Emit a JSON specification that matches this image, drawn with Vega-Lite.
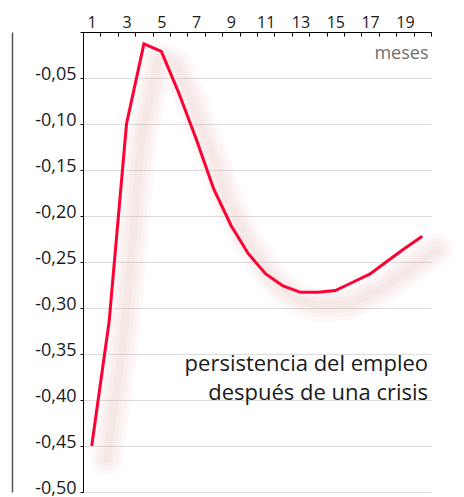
{
  "$schema": "https://vega.github.io/schema/vega-lite/v6.json",
  "width": 348,
  "height": 460,
  "autosize": {"type": "none"},
  "padding": {"left": 83, "top": 32, "right": 33, "bottom": 5},
  "background": "white",
  "config": {
    "view": {"stroke": null},
    "font": "Open Sans",
    "axis": {"labelFont": "Open Sans", "titleFont": "Open Sans"},
    "text": {"font": "Open Sans"}
  },
  "datasets": {
    "serie": [
      {"mes": 1, "valor": -0.450},
      {"mes": 2, "valor": -0.315},
      {"mes": 3, "valor": -0.100},
      {"mes": 4, "valor": -0.013},
      {"mes": 5, "valor": -0.021},
      {"mes": 6, "valor": -0.066},
      {"mes": 7, "valor": -0.116},
      {"mes": 8, "valor": -0.170},
      {"mes": 9, "valor": -0.210},
      {"mes": 10, "valor": -0.241},
      {"mes": 11, "valor": -0.263},
      {"mes": 12, "valor": -0.276},
      {"mes": 13, "valor": -0.283},
      {"mes": 14, "valor": -0.283},
      {"mes": 15, "valor": -0.281},
      {"mes": 16, "valor": -0.272},
      {"mes": 17, "valor": -0.263},
      {"mes": 18, "valor": -0.249},
      {"mes": 19, "valor": -0.235},
      {"mes": 20, "valor": -0.222}
    ],
    "nota": [{"texto": "persistencia del empleo\ndespués de una crisis"}]
  },
  "layer": [
    {
      "data": {"name": "serie"},
      "mark": {"type": "line", "color": "#e0a0a0", "opacity": 0.06, "strokeWidth": 32, "xOffset": 15, "yOffset": 13, "strokeCap": "round", "strokeJoin": "round"},
      "encoding": {
        "x": {"field": "mes", "type": "quantitative", "scale": {"domain": [0.5, 20.5], "nice": false, "zero": false}, "axis": null},
        "y": {"field": "valor", "type": "quantitative", "scale": {"domain": [-0.5, 0], "nice": false, "zero": false},
              "axis": {"orient": "left", "offset": 71, "ticks": false, "labels": false, "grid": false, "title": null, "domainColor": "#555555", "domainWidth": 1.5}}
      }
    },
    {
      "data": {"name": "serie"},
      "mark": {"type": "line", "color": "#e0a0a0", "opacity": 0.06, "strokeWidth": 24, "xOffset": 15, "yOffset": 13, "strokeCap": "round", "strokeJoin": "round"},
      "encoding": {
        "x": {"field": "mes", "type": "quantitative", "axis": null},
        "y": {"field": "valor", "type": "quantitative", "axis": null}
      }
    },
    {
      "data": {"name": "serie"},
      "mark": {"type": "line", "color": "#e0a0a0", "opacity": 0.06, "strokeWidth": 16, "xOffset": 15, "yOffset": 13, "strokeCap": "round", "strokeJoin": "round"},
      "encoding": {
        "x": {"field": "mes", "type": "quantitative", "axis": null},
        "y": {"field": "valor", "type": "quantitative", "axis": null}
      }
    },
    {
      "data": {"name": "serie"},
      "mark": {"type": "line", "color": "#e0a0a0", "opacity": 0.06, "strokeWidth": 8, "xOffset": 15, "yOffset": 13, "strokeCap": "round", "strokeJoin": "round"},
      "encoding": {
        "x": {"field": "mes", "type": "quantitative", "axis": null},
        "y": {"field": "valor", "type": "quantitative", "axis": null}
      }
    },
    {
      "data": {"name": "serie"},
      "mark": {"type": "line", "color": "#ff0033", "strokeWidth": 3},
      "encoding": {
        "x": {"field": "mes", "type": "quantitative",
              "axis": {
                "orient": "top",
                "values": [0.5, 1, 1.5, 2, 2.5, 3, 3.5, 4, 4.5, 5, 5.5, 6, 6.5, 7, 7.5, 8, 8.5, 9, 9.5, 10, 10.5, 11, 11.5, 12, 12.5, 13, 13.5, 14, 14.5, 15, 15.5, 16, 16.5, 17, 17.5, 18, 18.5, 19, 19.5, 20, 20.5],
                "labelExpr": "datum.value % 2 == 1 ? format(datum.value, 'd') : ''",
                "labelOverlap": false,
                "labelBound": false,
                "labelFlush": false,
                "tickOpacity": {"condition": {"test": "datum.value % 1 != 0", "value": 1}, "value": 0},
                "tickSize": -4,
                "tickWidth": 1,
                "labelPadding": 6,
                "labelFontSize": 16,
                "labelColor": "#1a1a1a",
                "domainColor": "#000000",
                "tickColor": "#000000",
                "grid": false,
                "title": "meses",
                "titleColor": "#6f6f6f",
                "titleFontSize": 18,
                "titleFontWeight": "normal",
                "titleAnchor": "end",
                "titleAlign": "right",
                "titleX": 345,
                "titleY": 26,
                "titleBaseline": "alphabetic"
              }},
        "y": {"field": "valor", "type": "quantitative",
              "axis": {
                "orient": "left",
                "values": [0, -0.05, -0.1, -0.15, -0.2, -0.25, -0.3, -0.35, -0.4, -0.45, -0.5],
                "labelExpr": "datum.value == 0 ? '' : replace(replace(format(datum.value, '.2f'), '.', ','), '−', '-')",
                "grid": true,
                "gridColor": "#dddddd",
                "domainColor": "#000000",
                "tickColor": "#000000",
                "tickSize": 3,
                "labelPadding": 4,
                "labelFontSize": 18,
                "labelColor": "#1a1a1a",
                "labelBaseline": "alphabetic",
                "labelAlign": "right",
                "labelOffset": 1,
                "labelOverlap": false,
                "labelBound": false,
                "labelFlush": false,
                "title": null
              }}
      }
    },
    {
      "data": {"name": "nota"},
      "mark": {"type": "text", "align": "right", "baseline": "alphabetic", "fontSize": 22, "lineBreak": "\n", "lineHeight": 29, "color": "#1a1a1a"},
      "encoding": {
        "x": {"datum": 20.33, "type": "quantitative", "axis": null},
        "y": {"datum": -0.369, "type": "quantitative", "axis": null},
        "text": {"field": "texto", "type": "nominal"}
      }
    }
  ],
  "resolve": {"axis": {"x": "independent", "y": "independent"}}
}
